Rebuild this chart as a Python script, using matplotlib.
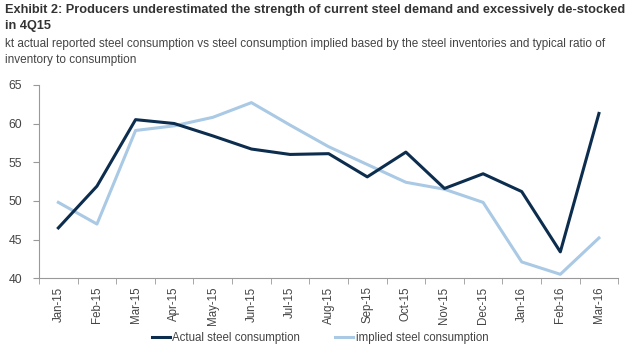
import matplotlib.pyplot as plt
import numpy as np

plt.rcParams['font.family'] = ['Liberation Sans', 'DejaVu Sans']

months = ["Jan-15", "Feb-15", "Mar-15", "Apr-15", "May-15", "Jun-15", "Jul-15",
          "Aug-15", "Sep-15", "Oct-15", "Nov-15", "Dec-15", "Jan-16", "Feb-16", "Mar-16"]
actual = [46.5, 51.9, 60.5, 60.0, 58.4, 56.7, 56.0, 56.1, 53.1, 56.3, 51.6, 53.5, 51.2, 43.4, 61.3]
implied = [49.8, 47.0, 59.1, 59.7, 60.8, 62.7, 59.8, 57.0, 54.7, 52.4, 51.5, 49.8, 42.1, 40.5, 45.2]

dark = "#0c2d4e"
light = "#a9c9e5"
grey = "#444444"

fig = plt.figure(figsize=(6.4, 3.58), dpi=100)
ax = fig.add_axes([0.061, 0.223, 0.905, 0.54])

x = np.arange(len(months))
ax.plot(x, actual, color=dark, lw=2.2, label="Actual steel consumption", zorder=3)
ax.plot(x, implied, color=light, lw=2.2, label="implied steel consumption", zorder=2)

ax.set_xlim(-0.5, len(months) - 0.5)
ax.set_ylim(40, 65)
ax.set_yticks([40, 45, 50, 55, 60, 65])
ax.set_xticks(x)
ax.set_xticklabels(months, rotation=90, fontsize=8.3, color=grey)
ax.set_xticks(np.arange(-0.5, len(months)), minor=True)
ax.tick_params(axis="x", which="major", length=0, pad=6)
ax.tick_params(axis="x", which="minor", length=4, color="#999999", direction="out")
ax.tick_params(axis="y", length=4, color="#999999", labelsize=8.8, labelcolor=grey, pad=8)

for s in ["top", "right"]:
    ax.spines[s].set_visible(False)
for s in ["left", "bottom"]:
    ax.spines[s].set_color("#999999")
    ax.spines[s].set_linewidth(0.8)

fig.text(0.008, 0.988, "Exhibit 2: Producers underestimated the strength of current steel demand and excessively de-stocked\nin 4Q15",
         fontsize=9.2, fontweight="bold", color="#333333", va="top", ha="left", linespacing=1.45)
fig.text(0.008, 0.893, "kt actual reported steel consumption vs steel consumption implied based by the steel inventories and typical ratio of\ninventory to consumption",
         fontsize=8.5, color=grey, va="top", ha="left", linespacing=1.4)

fig.legend(loc="center", bbox_to_anchor=(0.5, 0.056), ncol=2, frameon=False, fontsize=8.3,
           handlelength=1.6, handletextpad=0.2, columnspacing=3, labelcolor=grey)

fig.savefig("out.png", dpi=100)
